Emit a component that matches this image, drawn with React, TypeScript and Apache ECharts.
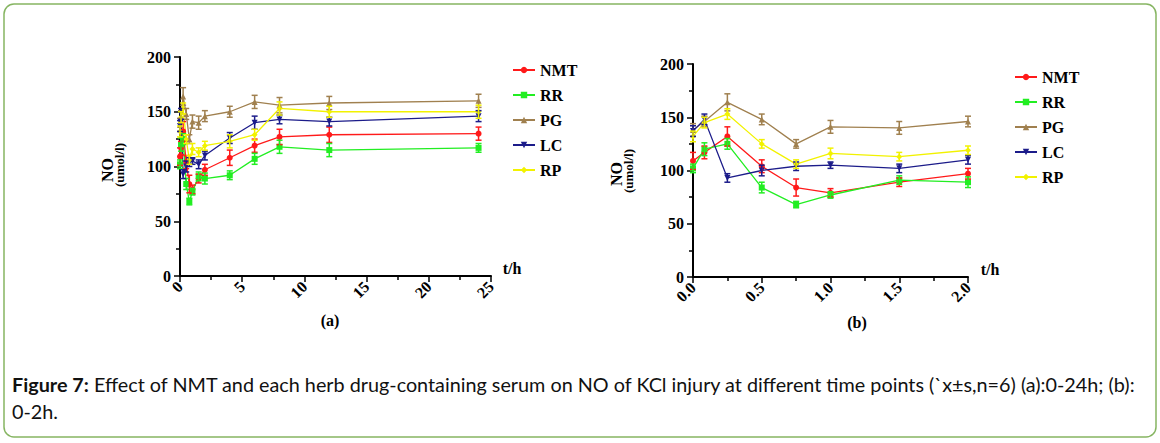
import React, { useEffect, useRef } from "react";
import * as echarts from "echarts";

const times = [0, 0.083, 0.25, 0.5, 0.75, 1, 1.5, 2, 4, 6, 8, 12, 24];
const seriesNames = ["NMT", "RR", "PG", "LC", "RP"];
const nmtMean = [109, 117, 132, 104, 84, 79, 89, 97, 108, 119, 127, 129, 130];
const nmtSd = [8, 6, 9, 6, 8, 4, 4, 5, 7, 6, 7, 7, 6];
const rrMean = [102, 120, 125, 84, 68, 77, 91, 89, 92, 107, 118, 115, 117];
const rrSd = [4, 6, 5, 5, 3, 3, 4, 5, 4, 5, 6, 6, 4];
const pgMean = [138, 146, 164, 148, 125, 141, 140, 146, 150, 159, 156, 158, 160];
const pgSd = [6, 5, 8, 5, 4, 6, 6, 5, 5, 6, 7, 6, 6];
const lcMean = [137, 148, 93, 100, 104, 105, 102, 110, 126, 140, 143, 141, 146];
const lcSd = [5, 5, 4, 5, 4, 3, 4, 4, 5, 6, 4, 4, 5];
const rpMean = [132, 145, 153, 125, 106, 116, 113, 119, 123, 129, 153, 150, 150];
const rpSd = [5, 5, 5, 4, 4, 5, 4, 4, 6, 5, 6, 5, 6];

const xTicksA = [0, 5, 10, 15, 20, 25];
const xTicksB = [0, 0.5, 1.0, 1.5, 2.0];
const yTicks = [0, 50, 100, 150, 200];
const captionBold = "Figure 7:";
const captionRest =
  " Effect of NMT and each herb drug-containing serum on NO of KCl injury at different time points (`x±s,n=6) (a):0-24h; (b):";
const captionLine2 = "0-2h.";

const means = [nmtMean, rrMean, pgMean, lcMean, rpMean];
const sds = [nmtSd, rrSd, pgSd, lcSd, rpSd];
const colors = ["#ff1a1a", "#22ee22", "#a0804f", "#1c1c8a", "#f2f200"];
const symbols = ["circle", "rect", "triangle", "triangle", "diamond"];
const symbolRot = [0, 0, 0, 180, 0];

const SERIF = "'Liberation Serif', 'DejaVu Serif', serif";
const CAP_FONT = "Lato, 'Open Sans', sans-serif";

function App() {
  const ref = useRef<HTMLDivElement>(null);
  useEffect(() => {
    if (!ref.current) return;
    const chart = echarts.init(ref.current, null, { renderer: "svg" });

    const axisCommon = {
      axisLine: { show: true, lineStyle: { color: "#000", width: 2 } },
      axisTick: { show: true, length: 6, lineStyle: { color: "#000", width: 1.5 } },
      minorTick: { show: true, splitNumber: 2, length: 4, lineStyle: { color: "#000", width: 1.5 } },
      splitLine: { show: false },
    };
    const labelCommon = {
      fontFamily: SERIF,
      fontWeight: "bold",
      fontSize: 16,
      color: "#000",
    };

    const xAxes = [
      {
        type: "value",
        gridIndex: 0,
        min: xTicksA[0],
        max: xTicksA[xTicksA.length - 1],
        interval: 5,
        ...axisCommon,
        axisLabel: { rotate: 45, margin: 8, ...labelCommon },
      },
      {
        type: "value",
        gridIndex: 1,
        min: xTicksB[0],
        max: xTicksB[xTicksB.length - 1],
        interval: 0.5,
        ...axisCommon,
        axisLabel: {
          rotate: 45,
          margin: 8,
          ...labelCommon,
          formatter: (v: number) => v.toFixed(1),
        },
      },
    ];
    const yAxes = [0, 1].map((g) => ({
      type: "value",
      gridIndex: g,
      min: yTicks[0],
      max: yTicks[yTicks.length - 1],
      interval: 50,
      ...axisCommon,
      axisLabel: { margin: 9, ...labelCommon },
    }));

    const series: any[] = [];
    [0, 1].forEach((g) => {
      seriesNames.forEach((name, i) => {
        const idx = times
          .map((t, k) => k)
          .filter((k) => (g === 0 ? true : times[k] <= 2));
        series.push({
          type: "line",
          name,
          xAxisIndex: g,
          yAxisIndex: g,
          data: idx.map((k) => [times[k], means[i][k]]),
          symbol: symbols[i],
          symbolRotate: symbolRot[i],
          symbolSize: 6,
          lineStyle: { color: colors[i], width: 1.3 },
          itemStyle: { color: colors[i] },
          z: 3,
        });
      });
    });
    [0, 1].forEach((g) => {
      seriesNames.forEach((name, i) => {
        const idx = times
          .map((t, k) => k)
          .filter((k) => (g === 0 ? true : times[k] <= 2));
        series.push({
          type: "custom",
          name: name + "-err",
          xAxisIndex: g,
          yAxisIndex: g,
          encode: { x: 0, y: 1 },
          data: idx.map((k) => [times[k], means[i][k], sds[i][k]]),
          z: 4,
          renderItem: (params: any, api: any) => {
            const x = api.value(0);
            const m = api.value(1);
            const s = api.value(2);
            const top = api.coord([x, m + s]);
            const bot = api.coord([x, m - s]);
            const w = 3;
            const st = { stroke: colors[i], lineWidth: 1.5 };
            return {
              type: "group",
              children: [
                { type: "line", shape: { x1: top[0], y1: top[1], x2: bot[0], y2: bot[1] }, style: st },
                { type: "line", shape: { x1: top[0] - w, y1: top[1], x2: top[0] + w, y2: top[1] }, style: st },
                { type: "line", shape: { x1: bot[0] - w, y1: bot[1], x2: bot[0] + w, y2: bot[1] }, style: st },
              ],
            };
          },
        });
      });
    });

    const legendCommon = {
      orient: "vertical",
      data: seriesNames,
      itemWidth: 22,
      itemHeight: 8,
      itemGap: 9,
      textStyle: { fontFamily: SERIF, fontWeight: "bold", fontSize: 16, color: "#000" },
      selectedMode: false,
      padding: 0,
    };

    const textStyleBold = (txt: string, size: number) => ({
      text: txt,
      font: `bold ${size}px ${SERIF}`,
      fill: "#000",
      align: "center",
      verticalAlign: "middle",
    });

    const option: any = {
      animation: false,
      grid: [
        { left: 180, top: 57, width: 311, height: 219 },
        { left: 693, top: 64, width: 275, height: 213 },
      ],
      xAxis: xAxes,
      yAxis: yAxes,
      legend: [
        { ...legendCommon, left: 512, top: 62 },
        { ...legendCommon, left: 1014, top: 69 },
      ],
      series,
      graphic: [
        {
          type: "rect",
          shape: { x: 4, y: 4, width: 1152, height: 433, r: 10 },
          style: { fill: "none", stroke: "#86b562", lineWidth: 1.5 },
          silent: true,
        },
        { type: "text", x: 107, y: 170, rotation: Math.PI / 2, style: textStyleBold("NO", 16) },
        { type: "text", x: 119, y: 165, rotation: Math.PI / 2, style: textStyleBold("(umol/l)", 13) },
        { type: "text", x: 616, y: 174, rotation: Math.PI / 2, style: textStyleBold("NO", 16) },
        { type: "text", x: 628, y: 171, rotation: Math.PI / 2, style: textStyleBold("(umol/l)", 13) },
        { type: "text", x: 512, y: 268, style: textStyleBold("t/h", 16) },
        { type: "text", x: 990, y: 269, style: textStyleBold("t/h", 16) },
        { type: "text", x: 330, y: 320, style: textStyleBold("(a)", 16) },
        { type: "text", x: 857, y: 322, style: textStyleBold("(b)", 16) },
        {
          type: "text",
          x: 12,
          y: 384,
          style: {
            text: `{b|${captionBold}}${captionRest}`,
            font: `19.8px ${CAP_FONT}`,
            fill: "#111",
            verticalAlign: "middle",
            rich: { b: { fontWeight: "bold", fontFamily: CAP_FONT, fontSize: 19.8, fill: "#111" } },
          },
        },
        {
          type: "text",
          x: 12,
          y: 411,
          style: { text: captionLine2, font: `19.8px ${CAP_FONT}`, fill: "#111", verticalAlign: "middle" },
        },
      ],
    };
    chart.setOption(option);
    return () => chart.dispose();
  }, []);
  return (
    <div
      ref={ref}
      style={{ position: "absolute", left: 0, top: 0, width: 1160, height: 443, background: "#fff" }}
    />
  );
}

export default App;
